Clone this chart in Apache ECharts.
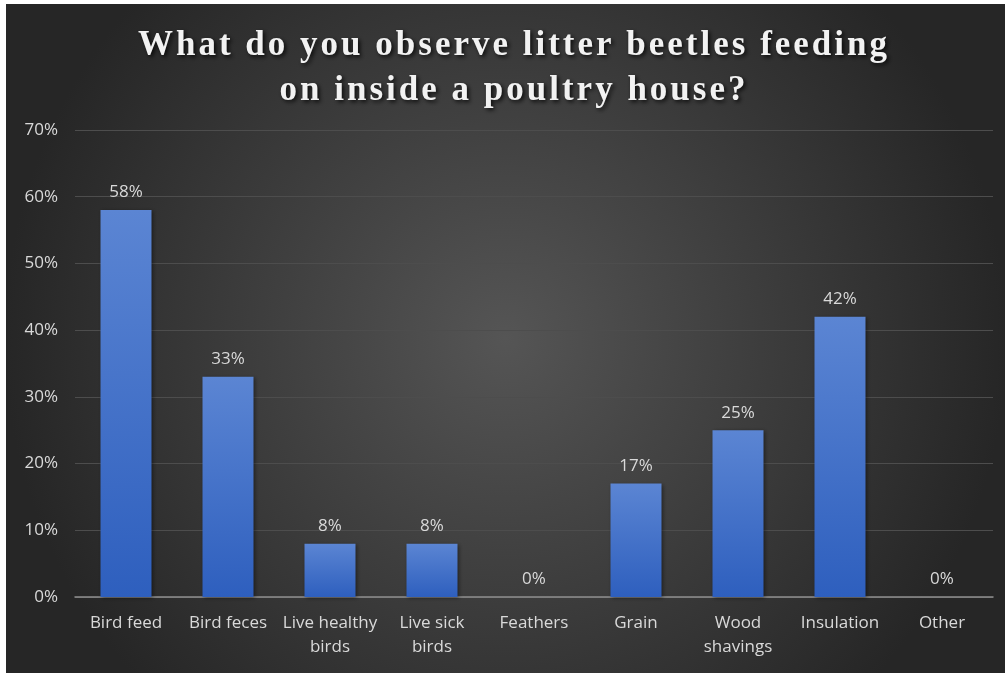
<!DOCTYPE html>
<html>
<head>
<meta charset="utf-8">
<script src="https://cdn.jsdelivr.net/npm/echarts@6/dist/echarts.min.js"></script>
<style>
  html, body { margin: 0; padding: 0; background: #ffffff; }
  #chart { position: absolute; left: 6px; top: 4px; width: 999px; height: 669px; }
</style>
</head>
<body>
<div id="chart"></div>
<script>
// Survey answers: what litter beetles are seen feeding on
const categories = ['Bird feed', 'Bird feces', 'Live healthy\nbirds', 'Live sick\nbirds', 'Feathers', 'Grain', 'Wood\nshavings', 'Insulation', 'Other'];
const shares = [58, 33, 8, 8, 0, 17, 25, 42, 0];
const yTicks = { min: 0, max: 70, interval: 10 };
const titleLines = ['What do you observe litter beetles feeding', 'on inside a poultry house?'];

// Letter-spaced title: every character becomes its own rich-text token with right padding
const spacedTitle = titleLines
  .map(line => Array.from(line).map(ch => '{c|' + ch + '}').join(''))
  .join('\n');

const chart = echarts.init(document.getElementById('chart'));
const labelFont = '"Open Sans", "Noto Sans", sans-serif';

chart.setOption({
  backgroundColor: {
    type: 'radial', x: 0.5, y: 0.5, r: 0.75,
    colorStops: [
      { offset: 0, color: '#555555' },
      { offset: 1, color: '#262626' }
    ]
  },
  title: {
    text: spacedTitle,
    left: 503,
    textAlign: 'center',
    top: 14,
    textStyle: {
      lineHeight: 45,
      rich: {
        c: {
          fontFamily: '"Liberation Serif", "DejaVu Serif", serif',
          fontWeight: 'bold',
          fontSize: 35,
          lineHeight: 45,
          padding: [0, 3, 0, 0],
          color: '#f2f2f2',
          textShadowColor: 'rgba(0,0,0,0.8)',
          textShadowBlur: 4,
          textShadowOffsetX: 2,
          textShadowOffsetY: 2
        }
      }
    }
  },
  grid: { left: 69, right: 12, top: 126, bottom: 76 },
  xAxis: {
    type: 'category',
    data: categories,
    axisTick: { show: false },
    axisLine: { lineStyle: { color: '#8f8f8f', width: 1.5 } },
    axisLabel: {
      color: '#d9d9d9',
      fontFamily: labelFont,
      fontSize: 17,
      lineHeight: 24,
      margin: 14,
      interval: 0
    }
  },
  yAxis: {
    type: 'value',
    min: yTicks.min,
    max: yTicks.max,
    interval: yTicks.interval,
    axisLine: { show: false },
    axisTick: { show: false },
    splitLine: { lineStyle: { color: '#4d4d4d', width: 1 } },
    axisLabel: {
      color: '#d9d9d9',
      fontFamily: labelFont,
      fontSize: 17,
      margin: 17,
      formatter: v => v + '%'
    }
  },
  series: [{
    type: 'bar',
    data: shares,
    barWidth: '50%',
    itemStyle: {
      color: {
        type: 'linear', x: 0, y: 0, x2: 0, y2: 1,
        colorStops: [
          { offset: 0, color: '#5b85d3' },
          { offset: 1, color: '#2e5fbe' }
        ]
      },
      shadowColor: 'rgba(0,0,0,0.45)',
      shadowBlur: 4,
      shadowOffsetX: 1,
      shadowOffsetY: 1
    },
    label: {
      show: true,
      position: 'top',
      distance: 9,
      color: '#d9d9d9',
      fontFamily: labelFont,
      fontSize: 17,
      formatter: p => p.value + '%'
    }
  }]
});
</script>
</body>
</html>
